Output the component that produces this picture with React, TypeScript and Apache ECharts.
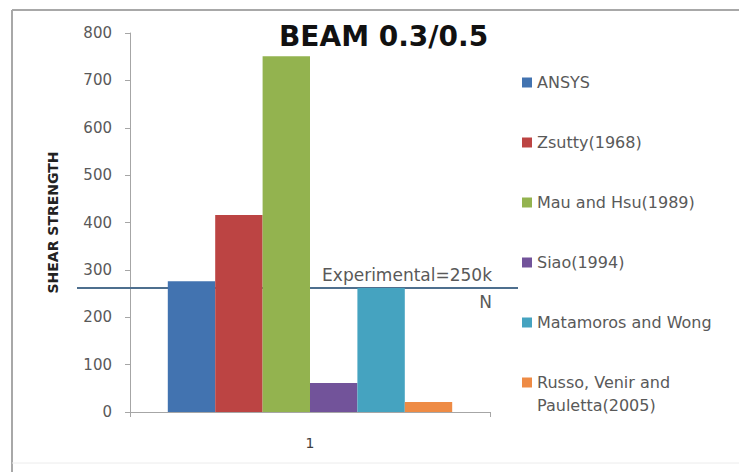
import React, { useEffect, useRef } from "react";
import * as echarts from "echarts";

const categories = ["1"];
const seriesNames = [
  "ANSYS",
  "Zsutty(1968)",
  "Mau and Hsu(1989)",
  "Siao(1994)",
  "Matamoros and Wong",
  "Russo, Venir and Pauletta(2005)",
];
const seriesValues = [276, 416, 751, 61, 262, 21];
const seriesColors = ["#4273b0", "#bc4443", "#93b34f", "#72539a", "#45a3c0", "#ee8b45"];
const yTicks = { min: 0, max: 800, interval: 100 };
const experimentalValue = 262;
const experimentalLabel = ["Experimental=250k", "N"];
const titleText = "BEAM 0.3/0.5";
const yAxisName = "SHEAR STRENGTH";
const legendWrapAt = " Pauletta";

export default function App() {
  const ref = useRef<HTMLDivElement>(null);
  useEffect(() => {
    if (!ref.current) return;
    const chart = echarts.init(ref.current, null, { renderer: "svg" });
    const font = "DejaVu Sans";
    const wrapIdx = seriesNames[5].indexOf(legendWrapAt);
    chart.setOption({
      animation: false,
      backgroundColor: "#ffffff",
      title: {
        text: titleText,
        left: 274,
        top: 17,
        textStyle: { fontFamily: font, fontWeight: "bold", fontSize: 28, color: "#111111" },
      },
      legend: {
        orient: "vertical",
        left: 522,
        top: 70,
        padding: 0,
        itemWidth: 10,
        itemHeight: 10,
        itemGap: 35,
        icon: "rect",
        formatter: (n: string) => {
          const k = n.indexOf(legendWrapAt);
          return k >= 0 ? n.slice(0, k) : n;
        },
        textStyle: { fontFamily: font, fontSize: 16, lineHeight: 25, color: "#595959" },
        data: seriesNames,
      },
      grid: { left: 130, right: 249, top: 33, bottom: 60 },
      xAxis: {
        type: "category",
        data: categories,
        axisLine: { lineStyle: { color: "#a6a6a6" } },
        axisTick: { show: true, length: 5, lineStyle: { color: "#a6a6a6" } },
        axisLabel: { margin: 24, fontFamily: font, fontSize: 14, color: "#404040" },
      },
      yAxis: {
        type: "value",
        min: yTicks.min,
        max: yTicks.max,
        interval: yTicks.interval,
        name: yAxisName,
        nameLocation: "middle",
        nameGap: 70,
        nameTextStyle: { fontFamily: font, fontWeight: "bold", fontSize: 14, color: "#222222" },
        axisLine: { show: true, lineStyle: { color: "#a6a6a6" } },
        axisTick: { show: true, length: 5, lineStyle: { color: "#a6a6a6" } },
        splitLine: { show: false },
        axisLabel: { margin: 18, fontFamily: font, fontSize: 15, color: "#595959" },
      },
      series: seriesNames.map((name, i) => ({
        name,
        type: "bar",
        data: [seriesValues[i]],
        barGap: "0%",
        barCategoryGap: "21%",
        itemStyle: { color: seriesColors[i] },
        z: 3,
      })),
    });
    const yPix = chart.convertToPixel({ yAxisIndex: 0 }, experimentalValue) as number;
    chart.setOption({
      graphic: [
        {
          type: "line",
          z: 1,
          shape: { x1: 77, y1: yPix, x2: 518, y2: yPix },
          style: { stroke: "#4e6f8e", lineWidth: 2 },
        },
        {
          type: "text",
          z: 10,
          x: 492,
          y: yPix - 13,
          style: {
            text: experimentalLabel[0],
            align: "right",
            verticalAlign: "middle",
            fontFamily: font,
            fontSize: 17,
            fill: "#595959",
          },
        },
        {
          type: "text",
          z: 10,
          x: 492,
          y: yPix + 14,
          style: {
            text: experimentalLabel[1],
            align: "right",
            verticalAlign: "middle",
            fontFamily: font,
            fontSize: 17,
            fill: "#595959",
          },
        },
        {
          type: "text",
          z: 10,
          x: 537,
          y: 405,
          style: {
            text: seriesNames[5].slice(wrapIdx + 1),
            align: "left",
            verticalAlign: "middle",
            fontFamily: font,
            fontSize: 16,
            fill: "#595959",
          },
        },
        {
          type: "line",
          z: 0,
          shape: { x1: 12, y1: 10, x2: 739, y2: 10 },
          style: { stroke: "#a8a8a8", lineWidth: 2 },
        },
        {
          type: "line",
          z: 0,
          shape: { x1: 12, y1: 10, x2: 12, y2: 472 },
          style: { stroke: "#a8a8a8", lineWidth: 2 },
        },
        {
          type: "line",
          z: 0,
          shape: { x1: 12, y1: 463, x2: 739, y2: 463 },
          style: { stroke: "#ececec", lineWidth: 1 },
        },
      ],
    });
    return () => chart.dispose();
  }, []);
  return (
    <div
      ref={ref}
      style={{ position: "fixed", left: 0, top: 0, width: 739, height: 472, background: "#fff" }}
    />
  );
}
